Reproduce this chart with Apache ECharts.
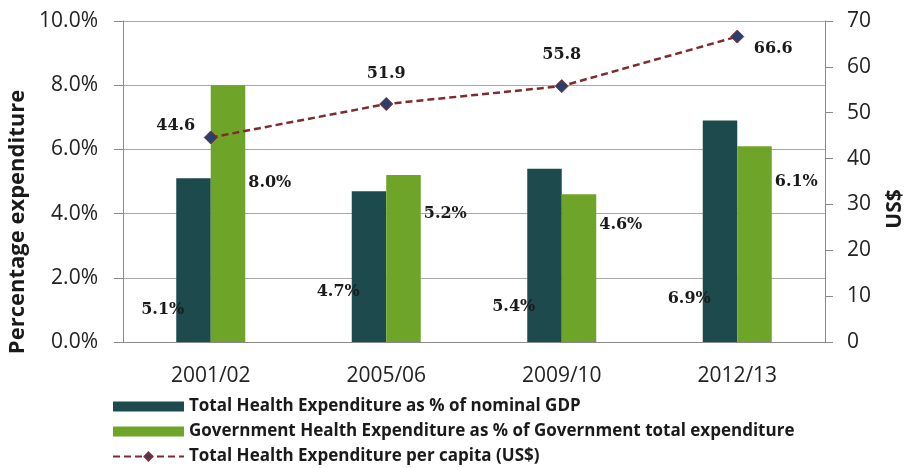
<!DOCTYPE html>
<html><head><meta charset="utf-8">
<script src="https://cdn.jsdelivr.net/npm/echarts@6/dist/echarts.min.js"></script>
<style>html,body{margin:0;padding:0;background:#fff}#c{width:913px;height:468px}</style>
</head><body><div id="c"></div>
<script>
const categories = ['2001/02', '2005/06', '2009/10', '2012/13'];
const gdpShare = [5.1, 4.7, 5.4, 6.9];
const govShare = [8.0, 5.2, 4.6, 6.1];
const perCapita = [44.6, 51.9, 55.8, 66.6];
const seriesNames = [
  'Total Health Expenditure as % of nominal GDP',
  'Government Health Expenditure as % of Government total expenditure',
  'Total Health Expenditure per capita (US$)'
];

// label placement tweaks (style only)
const gdpLabelLift = [32, 50, 35, 43];
const govLabelLift = [159, 128, 117, 160];
const lineLabelOffset = [[-35, -12], [0, -30], [0, -31], [36, 12]];

const labelFont = {fontFamily: '"DejaVu Serif", serif', fontWeight: 'bold', fontSize: 16, color: '#1a1a1a'};
const tickFont = {fontFamily: '"Open Sans", sans-serif', fontSize: 21, color: '#222'};

const chart = echarts.init(document.getElementById('c'));
chart.setOption({
  animation: false,
  backgroundColor: '#fff',
  grid: {left: 123, right: 88, top: 21, bottom: 126},
  legend: {
    orient: 'vertical', left: 107, top: 393, height: 120, itemWidth: 71, itemHeight: 10, itemGap: 8,
    textStyle: {fontFamily: '"Open Sans", sans-serif', fontWeight: 'bold', fontSize: 17, color: '#1a1a1a'},
    data: [
      {name: seriesNames[0], icon: 'rect'},
      {name: seriesNames[1], icon: 'rect'},
      {name: seriesNames[2]}
    ]
  },
  xAxis: {
    type: 'category', data: categories,
    axisLine: {show: true, lineStyle: {color: '#8a8a8a', width: 1}},
    axisTick: {show: false},
    axisLabel: Object.assign({margin: 24}, tickFont)
  },
  yAxis: [
    {
      type: 'value', min: 0, max: 10, interval: 2,
      axisLine: {show: true, lineStyle: {color: '#8a8a8a'}},
      axisTick: {show: true, length: 9, lineStyle: {color: '#8a8a8a'}},
      splitLine: {show: true, lineStyle: {color: '#a8a8a8', width: 1}},
      axisLabel: Object.assign({margin: 25, formatter: v => v.toFixed(1) + '%'}, tickFont)
    },
    {
      type: 'value', min: 0, max: 70, interval: 10, position: 'right',
      axisLine: {show: true, lineStyle: {color: '#8a8a8a'}},
      axisTick: {show: true, length: 8, lineStyle: {color: '#8a8a8a'}},
      splitLine: {show: false},
      axisLabel: Object.assign({margin: 22}, tickFont)
    }
  ],
  series: [
    {
      name: seriesNames[0], type: 'bar', barWidth: 34.5, barGap: '0%',
      itemStyle: {color: '#1c4a4d'},
      data: gdpShare.map((v, i) => ({
        value: v,
        label: {show: true, position: [8, '100%'], offset: [0, -gdpLabelLift[i]], align: 'right', verticalAlign: 'middle',
          formatter: p => p.value.toFixed(1) + '%', ...labelFont}
      }))
    },
    {
      name: seriesNames[1], type: 'bar', barWidth: 34.5, barGap: '0%',
      itemStyle: {color: '#6ea529'},
      data: govShare.map((v, i) => ({
        value: v,
        label: {show: true, position: ['100%', '100%'], offset: [3, -govLabelLift[i]], align: 'left', verticalAlign: 'middle',
          formatter: p => p.value.toFixed(1) + '%', ...labelFont}
      }))
    },
    {
      name: seriesNames[2], type: 'line', yAxisIndex: 1,
      symbol: 'diamond', symbolSize: 13,
      lineStyle: {color: '#7f2b2b', width: 2.5, type: [7, 4]},
      itemStyle: {color: '#2a3f6d', borderColor: '#8a2a2a', borderWidth: 1},
      z: 5,
      data: perCapita.map((v, i) => ({
        value: v,
        label: {show: true, position: 'inside', offset: lineLabelOffset[i], formatter: p => p.value.toFixed(1), ...labelFont}
      }))
    }
  ],
  graphic: [
    {type: 'text', x: 18, y: 222, rotation: Math.PI / 2,
      style: {text: 'Percentage expenditure', fontFamily: '"Open Sans", sans-serif', fontWeight: 'bold', fontSize: 22, fill: '#1a1a1a', align: 'center', verticalAlign: 'middle'}},
    {type: 'text', x: 895, y: 209, rotation: Math.PI / 2,
      style: {text: 'US$', fontFamily: '"Open Sans", sans-serif', fontWeight: 'bold', fontSize: 21, fill: '#1a1a1a', align: 'center', verticalAlign: 'middle'}}
  ]
});
</script></body></html>
